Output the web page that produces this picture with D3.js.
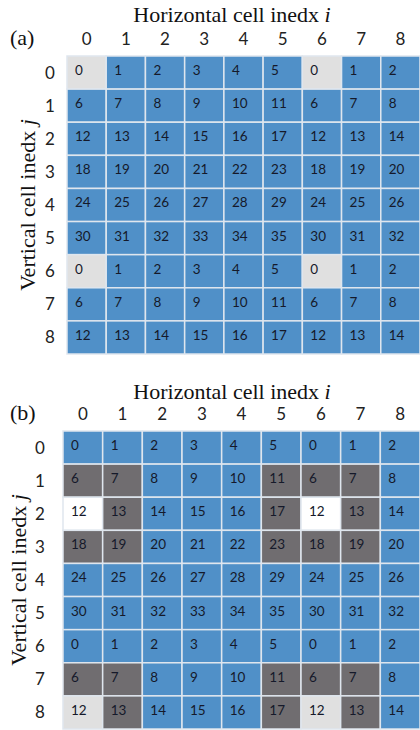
<!DOCTYPE html>
<html>
<head>
<meta charset="utf-8">
<script src="https://cdn.jsdelivr.net/npm/d3@7"></script>
<style>
  body { margin: 0; background: #fff; }
  svg { display: block; }
  .title { font-family: "Liberation Serif", "DejaVu Serif", serif; font-size: 22px; fill: #111; }
  .tick { font-family: "Lato", "Noto Sans", sans-serif; font-size: 17px; fill: #222; }
  .cell-label { font-family: "Lato", "Noto Sans", sans-serif; font-size: 13.5px; fill: #15192a; }
</style>
</head>
<body>
<div id="chart"></div>
<script>
const indices = [0, 1, 2, 3, 4, 5, 6, 7, 8];

// cell numbers, row j by column i (same in both panels)
const cellValues = [
  [0, 1, 2, 3, 4, 5, 0, 1, 2],
  [6, 7, 8, 9, 10, 11, 6, 7, 8],
  [12, 13, 14, 15, 16, 17, 12, 13, 14],
  [18, 19, 20, 21, 22, 23, 18, 19, 20],
  [24, 25, 26, 27, 28, 29, 24, 25, 26],
  [30, 31, 32, 33, 34, 35, 30, 31, 32],
  [0, 1, 2, 3, 4, 5, 0, 1, 2],
  [6, 7, 8, 9, 10, 11, 6, 7, 8],
  [12, 13, 14, 15, 16, 17, 12, 13, 14]
];

// B = blue, L = light grey, D = dark grey, W = white
const fillsA = [
  "LBBBBBLBB",
  "BBBBBBBBB",
  "BBBBBBBBB",
  "BBBBBBBBB",
  "BBBBBBBBB",
  "BBBBBBBBB",
  "LBBBBBLBB",
  "BBBBBBBBB",
  "BBBBBBBBB"
];
const fillsB = [
  "BBBBBBBBB",
  "DDBBBDDDB",
  "WDBBBDWDB",
  "DDBBBDDDB",
  "BBBBBBBBB",
  "BBBBBBBBB",
  "BBBBBBBBB",
  "DDBBBDDDB",
  "LDBBBDLDB"
];

const colors = { B: "#5090c8", L: "#e0e0e0", D: "#706d70", W: "#ffffff" };

const svg = d3.select("#chart").append("svg")
  .attr("width", 420)
  .attr("height", 730);

function drawPanel(opt) {
  const x = d3.scaleBand().domain(indices).range([opt.left, 420]);
  const y = d3.scaleBand().domain(indices).range([opt.top, opt.bottom]);
  const g = svg.append("g");

  const cells = [];
  indices.forEach(j => indices.forEach(i => {
    cells.push({i: i, j: j, value: cellValues[j][i], fill: opt.fills[j][i]});
  }));

  g.selectAll("rect.cell").data(cells).join("rect")
    .attr("class", "cell")
    .attr("x", d => x(d.i))
    .attr("y", d => y(d.j))
    .attr("width", x.bandwidth())
    .attr("height", y.bandwidth())
    .attr("fill", d => colors[d.fill])
    .attr("stroke", "#dfe6ee")
    .attr("stroke-width", 1.5);

  g.selectAll("text.cell-label").data(cells).join("text")
    .attr("class", "cell-label")
    .attr("x", d => x(d.i) + 8)
    .attr("y", d => y(d.j) + y.bandwidth() / 2 - 1)
    .attr("dominant-baseline", "middle")
    .text(d => d.value);

  // column index labels
  g.selectAll("text.col").data(indices).join("text")
    .attr("class", "tick col")
    .attr("x", d => x(d) + x.bandwidth() / 2)
    .attr("y", opt.colY)
    .attr("text-anchor", "middle")
    .text(d => d);

  // row index labels
  g.selectAll("text.row").data(indices).join("text")
    .attr("class", "tick row")
    .attr("x", opt.rowX)
    .attr("y", d => y(d) + y.bandwidth() / 2 + 6)
    .attr("text-anchor", "middle")
    .text(d => d);

  const ht = g.append("text")
    .attr("class", "title")
    .attr("x", 232)
    .attr("y", opt.titleY)
    .attr("text-anchor", "middle");
  ht.append("tspan").text("Horizontal cell inedx ");
  ht.append("tspan").attr("font-style", "italic").text("i");

  const vt = g.append("text")
    .attr("class", "title")
    .attr("transform", `translate(${opt.vX},${(opt.top + opt.bottom) / 2}) rotate(-90)`)
    .attr("text-anchor", "middle");
  vt.append("tspan").text("Vertical cell inedx ");
  vt.append("tspan").attr("font-style", "italic").text("j");

  g.append("text")
    .attr("class", "title")
    .attr("x", 10)
    .attr("y", opt.colY)
    .text(opt.tag);
}

drawPanel({fills: fillsA, left: 67, top: 56, bottom: 354, colY: 45, rowX: 50, titleY: 22, vX: 35, tag: "(a)"});
drawPanel({fills: fillsB, left: 63, top: 431, bottom: 729, colY: 420, rowX: 40, titleY: 399, vX: 26, tag: "(b)"});
</script>
</body>
</html>
